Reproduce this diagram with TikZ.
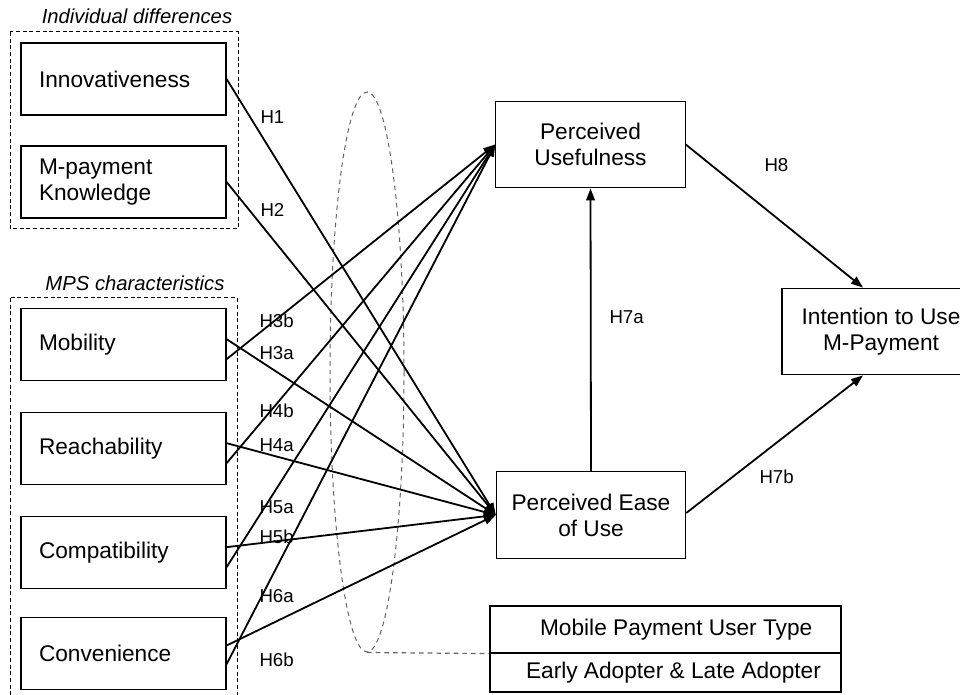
\documentclass[tikz,border=0pt]{standalone}
\usepackage{fontspec}
\setmainfont{Liberation Sans}
\usetikzlibrary{arrows.meta,shapes.geometric}

\tikzset{every picture/.style={line width=0.75pt}}
\tikzset{
  factor/.style={draw, line width=0.9pt, minimum width=153.75pt, minimum height=54pt, text width=126.75pt, inner xsep=13.5pt, align=left, font=\fontsize{17}{19.5}\selectfont},
  construct/.style={draw, line width=0.9pt, minimum width=142pt, minimum height=65pt, align=center, font=\fontsize{17}{19.5}\selectfont},
  usertype/.style={draw, line width=0.9pt, minimum width=263.25pt, inner sep=0pt, font=\fontsize{17}{19.5}\selectfont},
  grouplabel/.style={inner sep=0.75pt, font=\fontsize{15.2}{18}\selectfont\itshape},
  hyp/.style={anchor=west, inner sep=0.75pt, font=\fontsize{14}{16}\selectfont},
  link/.style={line width=1.35pt, -{Triangle[length=9pt,width=6.5pt]}},
  groupbox/.style={dash pattern={on 3pt off 2pt}, line width=0.75pt},
}

\begin{document}
\begin{tikzpicture}[x=0.75pt,y=0.75pt,yscale=-1,xscale=1]
\useasboundingbox (0,0) rectangle (960,695);

%Shape: Rectangle (dashed groups)
\draw [groupbox] (10,32) rectangle (238,229) ;
\draw [groupbox] (10,298) rectangle (237,700) ;
% Text Node
\draw (137,16) node [grouplabel] (gind) {Individual differences};
% Text Node
\draw (135,283) node [grouplabel] (gmps) {MPS characteristics};

% Left factors
\draw (123.5,79) node [factor] (inno) {Innovativeness};
\draw (123.5,182) node [factor] (know) {M-payment\\Knowledge};
\draw (123.5,344.5) node [factor] (mob) {Mobility};
\draw (123.5,448.5) node [factor] (reach) {Reachability};
\draw (123.5,552.5) node [factor] (compat) {Compatibility};
\draw (123.5,653.5) node [factor] (conv) {Convenience};

% Constructs
\draw (590.5,144.5) node [construct] (pu) {Perceived\\Usefulness};
\draw (591,515) node [construct] (peou) {Perceived Ease\\of Use};
\draw (881,331.5) node [construct, minimum width=148.5pt] (intent) {Intention to Use\\M-Payment};

% Moderator
\draw (367,372) node [ellipse, draw, color={rgb, 255:red, 100; green, 100; blue, 100 }, dash pattern={on 3.5pt off 3pt}, minimum width=55.5pt, minimum height=420pt, inner sep=0pt] (mod) {};
\draw (665.5,629.5) node [usertype, minimum height=35.25pt] (utype) {\hspace*{16pt}Mobile Payment User Type};
\draw (665.5,672.5) node [usertype, minimum height=29.25pt] (uadopt) {\hspace*{12pt}Early Adopter \& Late Adopter};
%Straight Lines
\draw [color={rgb, 255:red, 100; green, 100; blue, 100 }, dash pattern={on 3.5pt off 3pt}, line width=0.9pt] (mod.south) -- (utype.south west) ;

%Straight Lines
\draw [link] (inno.east) -- (peou.west) ;
\draw [link] (know.east) -- (peou.west) ;
\draw [link] ([yshift=11pt]mob.east) -- (pu.west) ;
\draw [link] ([yshift=-4pt]mob.east) -- (peou.west) ;
\draw [link] ([yshift=11pt]reach.east) -- (pu.west) ;
\draw [link] ([yshift=-4pt]reach.east) -- (peou.west) ;
\draw [link] ([yshift=11pt]compat.east) -- (pu.west) ;
\draw [link] ([yshift=-4pt]compat.east) -- (peou.west) ;
\draw [link] ([yshift=8pt]conv.east) -- (pu.west) ;
\draw [link] ([yshift=-6pt]conv.east) -- (peou.west) ;
\draw [link] (peou.north) -- (pu.south) ;
\draw [link] (pu.east) -- ([xshift=-13.5pt]intent.north) ;
\draw [link] ([yshift=-1.5pt]peou.east) -- ([xshift=-13.5pt]intent.south) ;

% Text Node
\draw (259,117) node [hyp] (h1) {H1};
\draw (259,210) node [hyp] (h2) {H2};
\draw (258,321) node [hyp] (h3b) {H3b};
\draw (258,353) node [hyp] (h3a) {H3a};
\draw (258,411) node [hyp] (h4b) {H4b};
\draw (258,445) node [hyp] (h4a) {H4a};
\draw (258,507) node [hyp] (h5a) {H5a};
\draw (258,537) node [hyp] (h5b) {H5b};
\draw (258,596) node [hyp] (h6a) {H6a};
\draw (258,660) node [hyp] (h6b) {H6b};
\draw (608,317) node [hyp] (h7a) {H7a};
\draw (758,477) node [hyp] (h7b) {H7b};
\draw (763,165) node [hyp] (h8) {H8};

\end{tikzpicture}
\end{document}
